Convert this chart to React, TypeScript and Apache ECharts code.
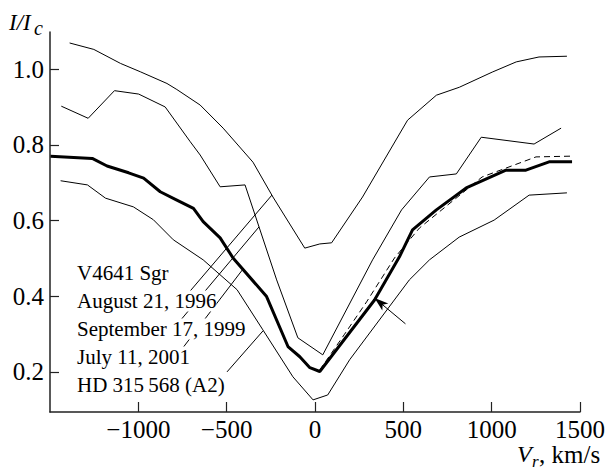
import React, { useEffect, useRef } from "react";
import * as echarts from "echarts";

const xTicks = [-1000, -500, 0, 500, 1000, 1500];
const yTicks = [0.2, 0.4, 0.6, 0.8, 1.0];

const aug1996 = [[-1389,1.069],[-1252,1.052],[-1101,1.015],[-989,0.993],[-838,0.962],[-782,0.946],[-650,0.905],[-520,0.844],[-351,0.754],[-238,0.662],[-58,0.527],[27,0.538],[94,0.541],[269,0.662],[524,0.865],[687,0.931],[817,0.952],[1003,0.992],[1139,1.019],[1268,1.032],[1426,1.034]];
const sep1999 = [[-1436,0.902],[-1284,0.870],[-1135,0.943],[-998,0.934],[-848,0.900],[-706,0.808],[-650,0.773],[-537,0.689],[-396,0.694],[-217,0.443],[-97,0.290],[44,0.245],[326,0.496],[490,0.628],[648,0.715],[800,0.723],[941,0.820],[1240,0.802],[1393,0.844]];
const jul2001 = [[-1497,0.770],[-1261,0.764],[-1177,0.744],[-1055,0.726],[-970,0.712],[-876,0.676],[-782,0.654],[-688,0.632],[-633,0.597],[-537,0.554],[-464,0.501],[-274,0.399],[-153,0.267],[-86,0.240],[-29,0.211],[27,0.201],[337,0.390],[478,0.504],[552,0.575],[687,0.628],[856,0.686],[1081,0.733],[1194,0.733],[1325,0.755],[1455,0.755]];
const mirrored = [[27,0.205],[165,0.298],[292,0.385],[450,0.501],[591,0.580],[946,0.715],[1251,0.768],[1455,0.770]];
const hd315568 = [[-1440,0.705],[-1288,0.694],[-1186,0.659],[-1028,0.636],[-915,0.602],[-802,0.549],[-633,0.496],[-441,0.417],[-295,0.311],[-125,0.187],[-11,0.126],[72,0.139],[196,0.232],[534,0.443],[648,0.496],[816,0.556],[1014,0.601],[1212,0.667],[1426,0.673]];

const leaders = [
  [[-706, 0.414], [-244, 0.667]],
  [[-769, 0.332], [-317, 0.583]],
  [[-757, 0.258], [-407, 0.472]],
  [[-498, 0.200], [-295, 0.308]],
];
const arrow = [[512, 0.327], [337, 0.395]];

const legendLines = ["V4641 Sgr", "August 21, 1996", "September 17, 1999", "July 11, 2001", "HD 315\u2009568 (A2)"];

export default function App() {
  const ref = useRef<HTMLDivElement>(null);
  useEffect(() => {
    const chart = echarts.init(ref.current!, null, { renderer: "svg" });
    const serif = "Liberation Serif";
    const thin = (name: string, data: number[][], extra: any = {}) => ({
      type: "line", name, data, symbol: "none", silent: true, z: 3,
      lineStyle: { color: "#000", width: 1 }, ...extra,
    });
    const legendY = [273, 301, 329, 357, 385];
    const txt = (x: number, y: number, text: string, size: number, italic = false, extra: any = {}) => ({
      type: "text", z: 10, x, y,
      style: { text, fontFamily: serif, fontSize: size, fontStyle: italic ? "italic" : "normal", fill: "#000", textVerticalAlign: "middle", ...extra },
    });
    chart.setOption({
      animation: false,
      textStyle: { fontFamily: serif },
      grid: { left: 50, right: 27, top: 32, bottom: 59 },
      xAxis: {
        type: "value", min: -1500, max: 1500,
        axisLine: { show: true, onZero: false, lineStyle: { color: "#222", width: 1.5 } },
        splitLine: { show: false },
        axisTick: { show: true, inside: true, length: 10, customValues: xTicks, lineStyle: { color: "#222", width: 1.2 } },
        axisLabel: {
          customValues: xTicks, color: "#000", fontFamily: serif, fontSize: 25, lineHeight: 20, margin: 7.5,
          formatter: (v: number) => (v < 0 ? "\u2212" + Math.abs(v) : String(v)),
        },
      },
      yAxis: {
        type: "value", min: 0.094, max: 1.098,
        axisLine: { show: true, onZero: false, lineStyle: { color: "#222", width: 1.5 } },
        splitLine: { show: false },
        axisTick: { show: true, inside: true, length: 9, customValues: yTicks, lineStyle: { color: "#222", width: 1.2 } },
        axisLabel: {
          customValues: yTicks, color: "#000", fontFamily: serif, fontSize: 25, margin: 6,
          formatter: (v: number) => v.toFixed(1),
        },
      },
      graphic: [
        txt(9, 22, "I/I", 23, true),
        txt(34, 28, "c", 20, true),
        txt(517, 454, "V", 24, true),
        txt(532, 461, "r", 17, true),
        txt(539, 454, ", km/s", 25, false),
        ...legendLines.map((t, i) => txt(77, legendY[i], t, 21, false, { backgroundColor: "#fff" })),
      ],
      series: [
        thin("August 21, 1996", aug1996),
        thin("September 17, 1999", sep1999),
        thin("mirrored", mirrored, { lineStyle: { color: "#000", width: 1, type: [6, 4] } }),
        thin("HD 315568 (A2)", hd315568),
        thin("July 11, 2001", jul2001, {
          z: 4,
          lineStyle: { color: "#000", width: 3 },
          markLine: {
            silent: true, symbol: ["none", "arrow"], symbolSize: [7, 14],
            label: { show: false },
            lineStyle: { color: "#000", width: 1, type: "solid" },
            data: [[{ coord: arrow[0] }, { coord: arrow[1] }]],
          },
        }),
        ...leaders.map((l, i) => thin("leader" + i, l)),
      ],
    });
    return () => chart.dispose();
  }, []);
  return <div ref={ref} style={{ width: 608, height: 471, position: "absolute", left: 0, top: 0 }} />;
}
